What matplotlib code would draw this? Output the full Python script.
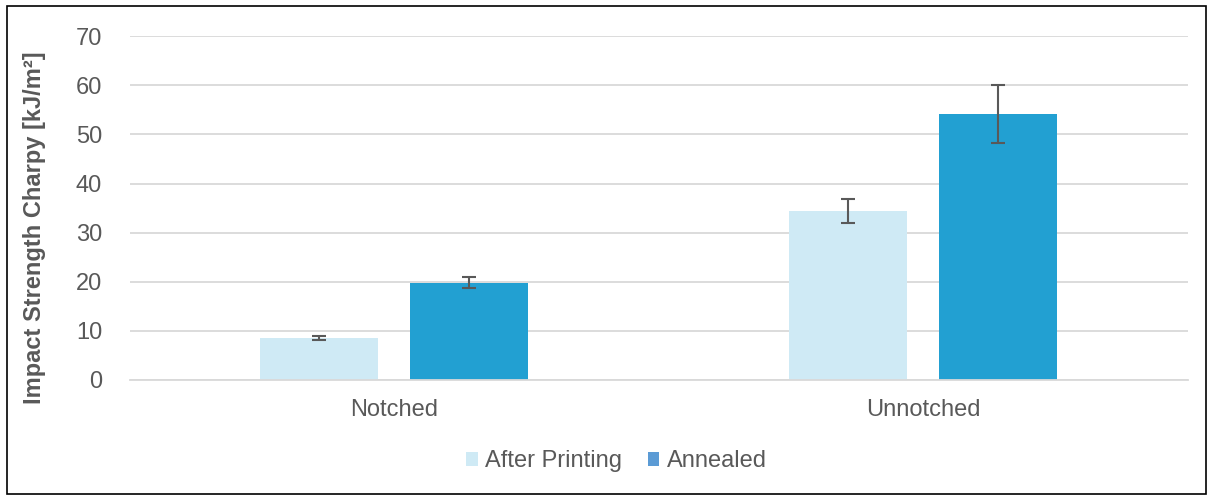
import matplotlib
matplotlib.use("Agg")
import matplotlib.pyplot as plt
from matplotlib.patches import Rectangle, Patch
import numpy as np

categories = ["Notched", "Unnotched"]
series_names = ["After Printing", "Annealed"]
after_printing = [8.5, 34.4]
after_printing_err = [0.4, 2.5]
annealed = [19.8, 54.1]
annealed_err = [1.1, 5.9]
y_ticks = [0, 10, 20, 30, 40, 50, 60, 70]

plt.rcParams['font.family'] = ['Liberation Sans', 'DejaVu Sans']

fig = plt.figure(figsize=(12.13, 4.96), dpi=100)
ax = fig.add_axes([0.107, 0.234, 0.872, 0.693])

x = np.arange(len(categories))
w = 0.223
off = 0.142
c_light = "#CFEAF5"
c_dark = "#22A0D2"
ecol = "#595959"

ax.bar(x - off, after_printing, w, color=c_light, zorder=2)
ax.bar(x + off, annealed, w, color=c_dark, zorder=2)
ax.errorbar(x - off, after_printing, yerr=after_printing_err, fmt='none',
            ecolor=ecol, elinewidth=1.5, capsize=5, capthick=1.5, zorder=3)
ax.errorbar(x + off, annealed, yerr=annealed_err, fmt='none',
            ecolor=ecol, elinewidth=1.5, capsize=5, capthick=1.5, zorder=3)

ax.set_xlim(-0.5, 1.5)
ax.set_ylim(0, 70)
ax.set_yticks(y_ticks)
ax.set_xticks(x)
ax.set_xticklabels(categories)
ax.yaxis.grid(True, color="#D9D9D9", linewidth=1.3, zorder=0)
ax.set_axisbelow(True)
for s in ["top", "right", "left"]:
    ax.spines[s].set_visible(False)
ax.spines["bottom"].set_color("#D9D9D9")
ax.spines["bottom"].set_linewidth(1.3)
ax.tick_params(axis='both', length=0, labelsize=17, colors="#595959")
ax.tick_params(axis='y', pad=20)
ax.tick_params(axis='x', pad=14)

ax.set_ylabel("Impact Strength Charpy [kJ/m²]", fontsize=17,
              fontweight='bold', color="#595959")
ax.yaxis.set_label_coords(-0.079, 0.442)

handles = [Patch(facecolor=c_light, edgecolor='none'),
           Patch(facecolor="#5B9BD5", edgecolor='none')]
fig.legend(handles, series_names, loc='center', bbox_to_anchor=(0.508, 0.07),
           ncol=2, frameon=False, fontsize=17, labelcolor="#595959",
           handlelength=0.5, handleheight=0.5, handletextpad=0.3,
           columnspacing=1.1)

fig.patches.append(Rectangle((0.006, 0.004), 0.988, 0.984, transform=fig.transFigure,
                             fill=False, edgecolor="black", linewidth=1.2))

fig.savefig("out.png", dpi=100)
